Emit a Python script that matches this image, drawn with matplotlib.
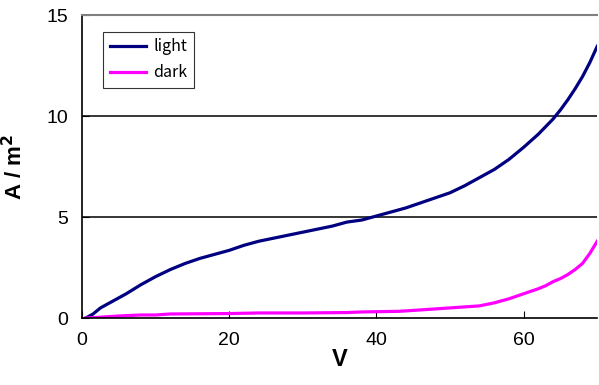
import matplotlib
matplotlib.use("Agg")
from matplotlib import pyplot as plt

plt.rcParams["font.family"] = ["Liberation Sans", "DejaVu Sans"]

# values
v_light = [0.5, 1.5, 2.5, 4, 6, 8, 10, 12, 14, 16, 18, 20, 22, 24, 26, 28, 30, 32, 34, 36,
           38, 40, 42, 44, 46, 48, 50, 52, 54, 56, 58, 60, 62, 64, 65, 66, 67, 68, 69, 70]
a_light = [0.0, 0.2, 0.5, 0.8, 1.2, 1.65, 2.05, 2.4, 2.7, 2.95, 3.15, 3.35, 3.6, 3.8, 3.95, 4.1,
           4.25, 4.4, 4.55, 4.75, 4.85, 5.05, 5.25, 5.45, 5.7, 5.95, 6.2, 6.55, 6.95, 7.35, 7.85,
           8.45, 9.1, 9.85, 10.3, 10.8, 11.35, 11.95, 12.65, 13.45]

v_dark = [0.5, 2, 5, 8, 10, 12, 20, 24, 30, 36, 38, 43, 46, 50, 54, 56, 58, 60, 62, 63, 64,
          65, 66, 67, 68, 69, 70]
a_dark = [0.0, 0.03, 0.1, 0.15, 0.15, 0.2, 0.22, 0.25, 0.25, 0.27, 0.3, 0.33, 0.4, 0.5, 0.6,
          0.75, 0.95, 1.2, 1.45, 1.6, 1.8, 1.95, 2.15, 2.4, 2.7, 3.2, 3.8]

fig = plt.figure(figsize=(5.99, 3.85), dpi=100)
ax = fig.add_axes([0.137, 0.174, 0.86, 0.787])

ax.plot(v_light, a_light, color="#000080", lw=2.3, label="light")
ax.plot(v_dark, a_dark, color="#FF00FF", lw=2.3, label="dark")

ax.set_xlim(0, 70)
ax.set_ylim(0, 15)
ax.set_xticks([0, 20, 40, 60])
ax.set_yticks([0, 5, 10, 15])
ax.tick_params(direction="in", labelsize=14, length=5, color="black")
ax.tick_params(axis="x", pad=10)
ax.tick_params(axis="y", pad=10)

for y in (5, 10):
    ax.axhline(y, color="black", lw=1.1, zorder=0)

ax.spines["top"].set_color("#808080")
ax.spines["top"].set_linewidth(1.5)
ax.spines["right"].set_visible(False)
ax.spines["left"].set_linewidth(1.2)
ax.spines["bottom"].set_linewidth(1.2)

ax.set_xlabel("V", fontsize=17, fontweight="bold", labelpad=-1)
ax.set_ylabel("A / m$^\\mathbf{2}$", fontsize=16, fontweight="bold", labelpad=14)

leg = ax.legend(loc="upper left", bbox_to_anchor=(0.041, 0.944),
                prop={"family": ["Noto Sans CJK JP", "DejaVu Sans"], "size": 11.5},
                frameon=True, fancybox=False, edgecolor="black", handlelength=2.3,
                borderpad=0.4, labelspacing=0.55, handletextpad=0.45, borderaxespad=0)
leg.get_frame().set_linewidth(0.8)

fig.savefig("out.png", dpi=100)
